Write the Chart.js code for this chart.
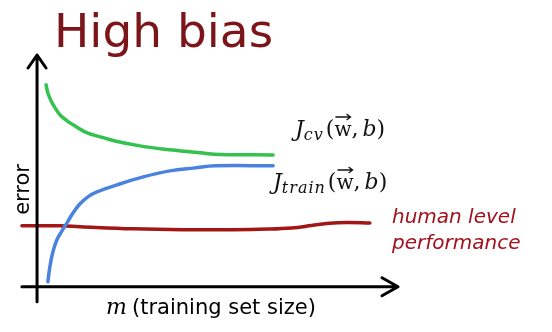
<!DOCTYPE html>
<html>
<head>
<meta charset="utf-8">
<script src="https://cdn.jsdelivr.net/npm/chart.js@4.4.1/dist/chart.umd.min.js"></script>
<style>
  html, body { margin: 0; padding: 0; background: #fff; }
  #wrap { width: 552px; height: 332px; position: relative; }
</style>
</head>
<body>
<div id="wrap"><canvas id="chart"></canvas></div>
<script>
// m = training set size (arbitrary units), error (arbitrary units)
const cvM = [2.5, 3.0, 3.9, 5.0, 6.4, 8.3, 10.5, 13.9, 17.5, 21.6, 28.5, 36.8, 45.2, 50.7, 65.4];
const cvErr = [87.1, 83.6, 80.2, 77.2, 74.1, 71.6, 69.4, 66.4, 64.7, 62.9, 60.8, 59.1, 57.8, 57.1, 56.9];

const trainM = [3.0, 3.6, 4.4, 5.5, 6.9, 8.3, 10.0, 11.9, 14.1, 16.6, 22.2, 29.4, 36.8, 43.8, 49.3, 65.4];
const trainErr = [2.2, 9.1, 15.1, 20.3, 24.1, 27.6, 31.9, 35.8, 38.8, 40.9, 44.0, 47.4, 50.0, 51.3, 52.2, 52.2];

const humanM = [-4.2, 6.4, 11.9, 26.6, 40.4, 54.3, 64.0, 70.5, 76.0, 81.0, 86.0, 92.2];
const humanErr = [26.3, 26.3, 25.9, 25.0, 24.6, 24.6, 24.9, 25.4, 26.4, 27.4, 27.7, 27.5];

const toPoints = (xs, ys) => xs.map((x, i) => ({ x: x, y: ys[i] }));

// black arrow axes drawn through the scales
const arrowAxes = {
    id: 'arrowAxes',
    afterDatasetsDraw(chart) {
        const { ctx, scales: { x, y } } = chart;
        const x0 = x.getPixelForValue(0), y0 = y.getPixelForValue(0);
        const xEnd = x.getPixelForValue(100), yTop = y.getPixelForValue(100);
        ctx.save();
        ctx.strokeStyle = '#000';
        ctx.lineWidth = 3;
        ctx.lineCap = 'round';
        ctx.lineJoin = 'round';
        ctx.beginPath();
        ctx.moveTo(x0, y.getPixelForValue(-6.5));
        ctx.lineTo(x0, yTop);
        ctx.moveTo(x0 - 9, yTop + 13);
        ctx.lineTo(x0, yTop);
        ctx.lineTo(x0 + 9, yTop + 13);
        ctx.moveTo(x.getPixelForValue(-4.2), y0);
        ctx.lineTo(xEnd, y0);
        ctx.moveTo(xEnd - 16, y0 - 9);
        ctx.lineTo(xEnd, y0);
        ctx.lineTo(xEnd - 16, y0 + 9);
        ctx.stroke();
        ctx.restore();
    }
};

function drawCost(ctx, left, base, sub) {
    const serif = '"DejaVu Serif", "Liberation Serif", serif';
    let cx = left;
    const put = (txt, font, dy) => {
        ctx.font = font;
        ctx.fillText(txt, cx, base + (dy || 0));
        const w = ctx.measureText(txt).width;
        cx += w;
        return w;
    };
    put('J', 'italic 22px ' + serif);
    ctx.letterSpacing = '1px';
    put(sub, 'italic 16px ' + serif, 4);
    ctx.letterSpacing = '0px';
    cx += 2;
    put('(', '22px ' + serif);
    const wx = cx;
    const ww = put('w', '20px ' + serif);
    // vector arrow over w
    ctx.beginPath();
    ctx.lineWidth = 1.3;
    ctx.moveTo(wx + 1, base - 19);
    ctx.lineTo(wx + ww - 1, base - 19);
    ctx.moveTo(wx + ww - 5, base - 22);
    ctx.lineTo(wx + ww - 1, base - 19);
    ctx.lineTo(wx + ww - 5, base - 16);
    ctx.stroke();
    put(', ', '22px ' + serif);
    cx -= 3;
    put('b', 'italic 22px ' + serif);
    put(')', '22px ' + serif);
}

const notes = {
    id: 'notes',
    afterDraw(chart) {
        const { ctx, scales: { y } } = chart;
        ctx.save();
        ctx.textBaseline = 'alphabetic';
        // title
        ctx.fillStyle = '#7b1519';
        ctx.font = '47px "DejaVu Sans", Verdana, sans-serif';
        ctx.fillText('High bias', 54, 47);

        // axis titles
        ctx.fillStyle = '#000';
        ctx.font = '21px "DejaVu Sans", Verdana, sans-serif';
        ctx.save();
        ctx.translate(29, y.getPixelForValue(42));
        ctx.rotate(-Math.PI / 2);
        ctx.textAlign = 'center';
        ctx.fillText('error', 0, 0);
        ctx.restore();

        ctx.font = 'italic 22px "DejaVu Serif", "Liberation Serif", serif';
        ctx.fillText('m', 106, 314);
        ctx.font = '21px "DejaVu Sans", Verdana, sans-serif';
        ctx.fillText('(training set size)', 132, 314);

        // curve labels
        ctx.strokeStyle = '#111';
        ctx.fillStyle = '#111';
        drawCost(ctx, 295, 136, 'cv');
        drawCost(ctx, 273, 189, 'train');

        ctx.fillStyle = '#a3111c';
        ctx.font = 'italic 20px "DejaVu Sans", Verdana, sans-serif';
        ctx.fillText('human level', 392, 223);
        ctx.fillText('performance', 392, 249);
        ctx.restore();
    }
};

new Chart(document.getElementById('chart'), {
    type: 'line',
    data: {
        datasets: [
            {
                label: 'J_cv',
                data: toPoints(cvM, cvErr),
                borderColor: '#33c150',
                borderWidth: 3.5
            },
            {
                label: 'J_train',
                data: toPoints(trainM, trainErr),
                borderColor: '#4a82e0',
                borderWidth: 3.5
            },
            {
                label: 'human level performance',
                data: toPoints(humanM, humanErr),
                borderColor: '#a31616',
                borderWidth: 3.5
            }
        ]
    },
    options: {
        responsive: true,
        maintainAspectRatio: false,
        animation: false,
        layout: { padding: { left: 19, right: 154, top: 55, bottom: 29 } },
        elements: {
            point: { radius: 0 },
            line: { tension: 0.4, borderCapStyle: 'round', borderJoinStyle: 'round' }
        },
        plugins: { legend: { display: false }, tooltip: { enabled: false } },
        scales: {
            x: { type: 'linear', min: -5, max: 100, display: false },
            y: { type: 'linear', min: -7, max: 100, display: false }
        }
    },
    plugins: [arrowAxes, notes]
});
</script>
</body>
</html>
